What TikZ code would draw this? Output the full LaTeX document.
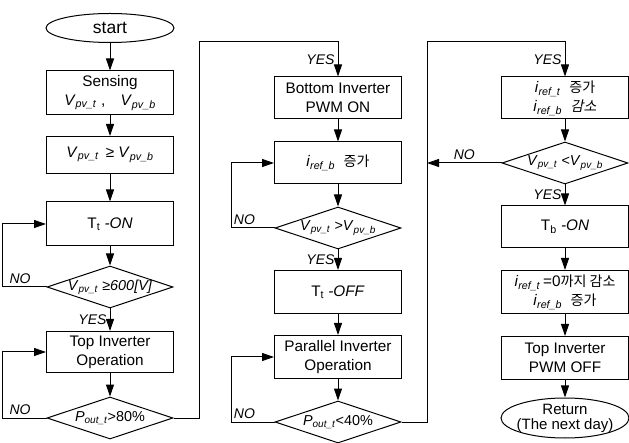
\documentclass[tikz,border=0pt]{standalone}
\usepackage{fontspec}
\setmainfont{Liberation Sans}
\newfontfamily\kr[Scale=0.92]{Noto Sans CJK KR}
\newfontfamily\krsl[Scale=0.92,FakeSlant=0.2]{Noto Sans CJK KR}
\usetikzlibrary{arrows.meta,shapes.geometric}

% italic symbol with italic subscript
\newcommand{\sym}[2]{\textit{#1}\textsubscript{\textit{#2}}}

\tikzset{
  proc/.style={draw, line width=1pt, minimum width=127pt, minimum height=42pt,
    inner sep=0pt, align=center, font=\fontsize{15.3}{19}\selectfont},
  dec/.style={draw, diamond, line width=1pt, minimum width=126pt,
    minimum height=42pt, inner sep=0pt},
  term/.style={draw, ellipse, line width=1pt, minimum width=128pt, inner sep=0pt},
  flow/.style={line width=1pt, -{Triangle[length=12pt, width=8pt]}},
  lbl/.style={font=\fontsize{14}{17}\selectfont\itshape, inner sep=3pt},
}

\begin{document}
\begin{tikzpicture}[x=1pt, y=-1pt, font=\fontsize{14.4}{18}\selectfont]
  \useasboundingbox (0,0) rectangle (629,443);

  % First column: top inverter start-up
  \node[term, minimum height=29pt, font=\fontsize{17.5}{20}\selectfont] (start) at (110,28) {start};
  \node[proc, minimum height=44pt] (sense) at (110,93)
    {Sensing\\\sym{V}{pv\_t} ,\quad\sym{V}{pv\_b}};
  \node[proc, minimum height=37pt] (cmp) at (110,155)
    {\sym{V}{pv\_t} \,≥ \sym{V}{pv\_b}};
  \node[proc, minimum height=44pt] (ton) at (110,224) {T\textsubscript{t} \textit{-ON}};
  \node[dec, label=center:{\sym{V}{pv\_t} ≥\textit{600[V]}}] (chk1) at (110,287) {};
  \node[proc, minimum height=41pt] (topop) at (110,352) {Top Inverter\\Operation};
  \node[dec, label=center:{\sym{P}{out\_t}>80\%}] (chk2) at (110,418) {};

  % Second column: bottom inverter joins
  \node[proc] (bpwm) at (338,98) {Bottom Inverter\\PWM ON};
  \node[proc] (irefb) at (338,163) {\sym{i}{ref\_b}\ \ {\kr 증가}};
  \node[dec, label=center:{\sym{V}{pv\_t} >\sym{V}{pv\_b}}] (chk3) at (338,228) {};
  \node[proc, minimum height=43pt] (toff) at (338,292) {T\textsubscript{t} \textit{-OFF}};
  \node[proc, minimum height=43pt] (parop) at (338,357) {Parallel Inverter\\Operation};
  \node[dec, label=center:{\sym{P}{out\_t}<40\%}] (chk4) at (338,422) {};

  % Third column: hand back to bottom inverter
  \node[proc] (iref1) at (565,98)
    {\sym{i}{ref\_t}\ \ {\kr 증가}\\\sym{i}{ref\_b}\ \ {\krsl 감소}};
  \node[dec, label=center:{\sym{V}{pv\_t} <\sym{V}{pv\_b}}] (chk5) at (565,163) {};
  \node[proc] (tbon) at (565,227) {T\textsubscript{b} \textit{-ON}};
  \node[proc, minimum height=43pt] (iref2) at (565,292)
    {\sym{i}{ref\_t}\,=0{\kr 까지 감소}\\\sym{i}{ref\_b}\ \ {\kr 증가}};
  \node[proc, minimum height=43pt] (tpwm) at (565,358) {Top Inverter\\PWM OFF};
  \node[term, minimum height=40pt,
    label={[align=center, font=\fontsize{15}{15}\selectfont]center:Return\\(The next day)}]
    (ret) at (565,418) {};

  % Corners of the links between columns
  \coordinate (up1) at (199,42);
  \coordinate (up2) at (427,42);

  % Straight flow
  \draw[flow] (start) -- (sense);
  \draw[flow] (sense) -- (cmp);
  \draw[flow] (cmp) -- (ton);
  \draw[flow] (ton) -- (chk1);
  \draw[flow] (chk1) -- node[lbl, left] {YES} (topop);
  \draw[flow] (topop) -- (chk2);
  \draw[flow] (bpwm) -- (irefb);
  \draw[flow] (irefb) -- (chk3);
  \draw[flow] (chk3) -- node[lbl, left] {YES} (toff);
  \draw[flow] (toff) -- (parop);
  \draw[flow] (parop) -- (chk4);
  \draw[flow] (iref1) -- (chk5);
  \draw[flow] (chk5) -- node[lbl, left] {YES} (tbon);
  \draw[flow] (tbon) -- (iref2);
  \draw[flow] (iref2) -- (tpwm);
  \draw[flow] (tpwm) -- (ret);

  % NO loops
  \draw[flow] (chk1.west) -- node[lbl, above, pos=0.6] {NO} ++(-44,0) |- (ton.west);
  \draw[flow] (chk2.west) -- node[lbl, above, pos=0.6] {NO} ++(-44,0) |- (topop.west);
  \draw[flow] (chk3.west) -- node[lbl, above, pos=0.7] {NO} ++(-43,0) |- (irefb.west);
  \draw[flow] (chk4.west) -- node[lbl, above, pos=0.7] {NO} ++(-43,0) |- (parop.west);
  \draw[flow] (chk5.west) -- node[lbl, above] {NO} (chk5.west -| up2);

  % YES links to the next column
  \draw[flow] (chk2.east) -| (up1) -| node[lbl, left, pos=0.75] {YES} (bpwm.north);
  \draw[flow] (chk4.east) -| (up2) -| node[lbl, left, pos=0.75] {YES} (iref1.north);
\end{tikzpicture}
\end{document}
